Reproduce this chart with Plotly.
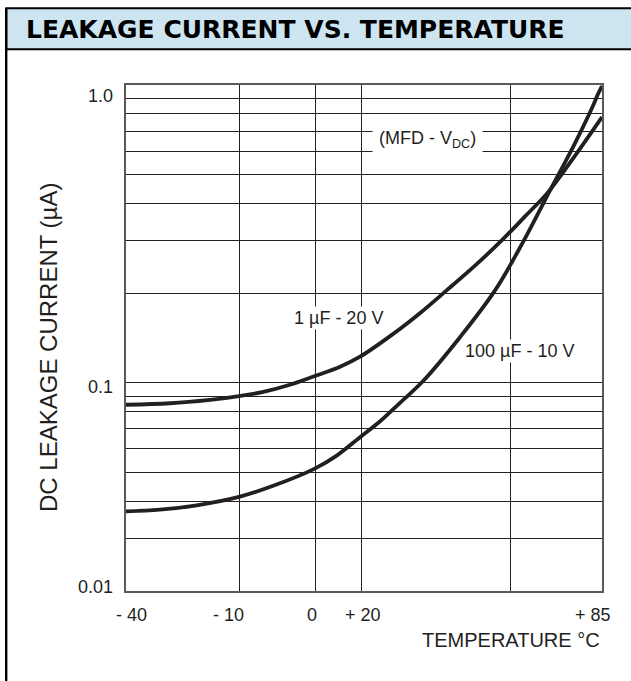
import numpy as np
import plotly.graph_objects as go

# ---------------- data ----------------
# temperatures (deg C) of the vertical grid lines, and their labels
grid_temps = [-40, -10, 0, 20, 60, 85]
grid_temp_labels = ["- 40", "- 10", "0", "+ 20", "", "+ 85"]

# horizontal grid lines of the log current axis (uA)
current_grid = [0.02, 0.03, 0.04, 0.05, 0.06, 0.07, 0.08, 0.09,
                0.1, 0.2, 0.3, 0.4, 0.5, 0.6, 0.7, 0.8, 0.9, 1.0]
current_tick_labels = ["0.01", "0.1", "1.0"]

# curve: 1 uF - 20 V
cap1_temp = [-40, -28.3, -17.7, -10, -6.8, -3.3, -0.1, 10.9, 19.6, 28.5, 35.7,
             42.9, 50.4, 57.6, 63.8, 70.2, 77.6, 85]
cap1_current = [0.0844, 0.0854, 0.0877, 0.0902, 0.0932, 0.0985, 0.1052,
                0.1133, 0.1224, 0.1457, 0.1713, 0.2047, 0.2474, 0.3014,
                0.3614, 0.4369, 0.5795, 0.7806]

# curve: 100 uF - 10 V
cap2_temp = [-40, -31, -21.2, -10, -5.5, -0.1, 9.6, 19.6, 25.1, 30.4, 36.5,
             46.4, 55.7, 63.3, 70.2, 77.6, 82.5, 83.9, 85]
cap2_current = [0.0370, 0.0375, 0.0388, 0.0414, 0.0451, 0.0514, 0.0571,
                0.0657, 0.0743, 0.0857, 0.1012, 0.1423, 0.2039, 0.2968,
                0.4302, 0.6384, 0.8501, 0.9327, 0.992]

series_names = ["1 µF - 20 V", "100 µF - 10 V"]
title_text = "LEAKAGE CURRENT VS. TEMPERATURE"
x_title = "TEMPERATURE °C"
y_title = "DC LEAKAGE CURRENT (µA)"
unit_note = "(MFD - V<sub>DC</sub>)"

# ---------------- layout / styling ----------------
W, H = 631, 681
PLOT_L, PLOT_R, PLOT_T, PLOT_B = 126, 602, 85, 591
# the temperature scale of the original drawing is not uniform:
# relative position of each grid temperature along the axis
GRID_POS = [0.0, 0.2374, 0.3971, 0.4937, 0.8088, 1.0]

INK = "#231f20"
FONT = "Liberation Sans, Arial, Helvetica, sans-serif"


def tpos(t):
    return np.interp(np.asarray(t, dtype=float), grid_temps, GRID_POS)


def px_x(px):
    return (px - PLOT_L) / (PLOT_R - PLOT_L)


def px_y(py):
    return (PLOT_B - py) / (PLOT_B - PLOT_T)


fig = go.Figure()

for temps, cur in [(cap1_temp, cap1_current), (cap2_temp, cap2_current)]:
    fig.add_trace(go.Scatter(
        x=tpos(temps), y=cur, mode="lines",
        line=dict(color=INK, width=3.8, shape="spline", smoothing=1.0),
        showlegend=False, hoverinfo="skip"))

annotations = []

# x tick labels
x_label_shift = [5, -11, -3, 2, 0, -9]
for t, lab, sh in zip(grid_temps, grid_temp_labels, x_label_shift):
    if not lab:
        continue
    annotations.append(dict(
        x=float(tpos(t)), xref="x", y=px_y(615), yref="paper",
        text=lab, showarrow=False, xshift=sh,
        font=dict(family=FONT, size=18, color=INK),
        xanchor="center", yanchor="middle"))

# y tick labels
y_label_pos = [px_y(587), px_y(387), px_y(96)]
for lab, yp in zip(current_tick_labels, y_label_pos):
    annotations.append(dict(
        x=px_x(115), xref="paper", y=yp, yref="paper",
        text=lab, showarrow=False,
        font=dict(family=FONT, size=18, color=INK),
        xanchor="right", yanchor="middle"))

# axis titles
annotations.append(dict(
    x=1, xref="paper", y=px_y(640), yref="paper", text=x_title,
    showarrow=False, xanchor="right", yanchor="middle",
    font=dict(family=FONT, size=20, color=INK)))
annotations.append(dict(
    x=px_x(48), xref="paper", y=px_y(348), yref="paper", text=y_title,
    showarrow=False, textangle=-90, xanchor="center", yanchor="middle",
    font=dict(family=FONT, size=24, color=INK)))

# in-chart labels with white knock-out background
annotations.append(dict(
    x=px_x(427), xref="paper", y=px_y(139), yref="paper", text=unit_note,
    showarrow=False, bgcolor="white", borderpad=6,
    xanchor="center", yanchor="middle",
    font=dict(family=FONT, size=18, color=INK)))
annotations.append(dict(
    x=px_x(338.5), xref="paper", y=px_y(318), yref="paper",
    text=series_names[0], showarrow=False, bgcolor="white", borderpad=1,
    xanchor="center", yanchor="middle",
    font=dict(family=FONT, size=18, color=INK)))
annotations.append(dict(
    x=px_x(519), xref="paper", y=px_y(351), yref="paper",
    text=series_names[1], showarrow=False, bgcolor="white", borderpad=1,
    xanchor="center", yanchor="middle",
    font=dict(family=FONT, size=18, color=INK)))

# title
annotations.append(dict(
    x=px_x(24), xref="paper", y=px_y(29.5), yref="paper",
    text="<b>" + title_text + "</b>",
    showarrow=False, xanchor="left", yanchor="middle",
    font=dict(family="DejaVu Sans, Arial Black, sans-serif", size=25, color="black")))

shapes = [
    # title bar
    dict(type="rect", xref="paper", yref="paper",
         x0=px_x(6.2), x1=px_x(645), y0=px_y(49.3), y1=px_y(8.3),
         fillcolor="#cde4f1", line=dict(color="black", width=2), layer="above"),
    # left frame line
    dict(type="line", xref="paper", yref="paper",
         x0=px_x(6.2), x1=px_x(6.2), y0=px_y(8), y1=px_y(700),
         line=dict(color="black", width=2.4), layer="above"),
]

fig.update_layout(
    width=W, height=H,
    margin=dict(l=PLOT_L, r=W - PLOT_R, t=PLOT_T, b=H - PLOT_B),
    paper_bgcolor="white", plot_bgcolor="white",
    showlegend=False,
    annotations=annotations, shapes=shapes,
    xaxis=dict(range=[0, 1], tickvals=GRID_POS, showticklabels=False,
               ticks="", showgrid=True, gridcolor=INK, gridwidth=1,
               zeroline=False, showline=True, mirror=True,
               linecolor="#5a5a5a", linewidth=2, fixedrange=True),
    yaxis=dict(type="log", range=[np.log10(0.02), 0], tickvals=current_grid,
               showticklabels=False, ticks="", showgrid=True,
               gridcolor=INK, gridwidth=1, zeroline=False, showline=True,
               mirror=True, linecolor="#5a5a5a", linewidth=2, fixedrange=True),
)

# the page's default 8px body margin would shift the whole drawing
fig.write_html(
    "out.html",
    config={"displayModeBar": False, "staticPlot": True},
    post_script="document.body.style.margin='0';document.body.style.overflow='hidden';")
